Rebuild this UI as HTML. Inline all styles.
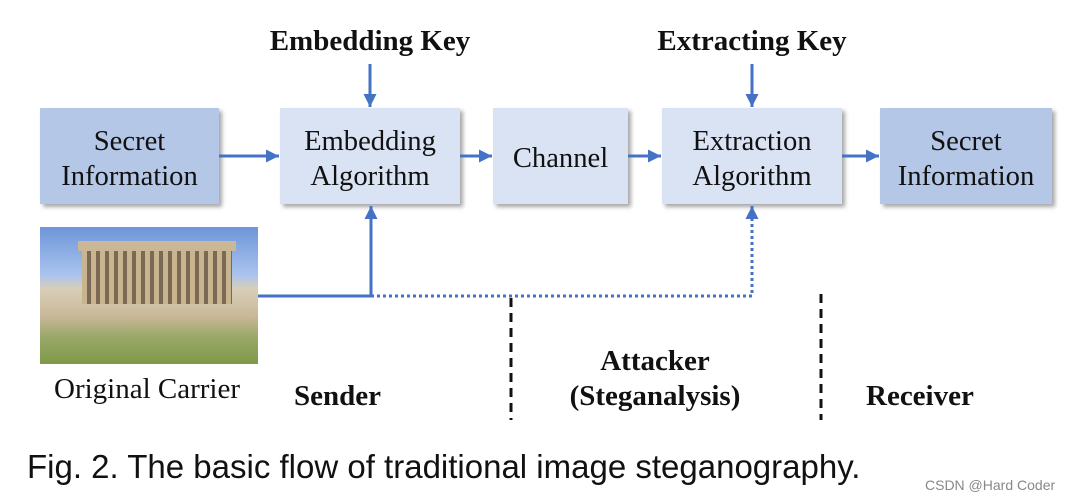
<!DOCTYPE html>
<html><head><style>
body{margin:0;width:1081px;height:501px;background:#fff;position:relative;overflow:hidden;font-family:"Liberation Serif",serif;}
.b{position:absolute;top:108px;height:96px;display:flex;align-items:center;justify-content:center;text-align:center;font-size:28.6px;line-height:35px;color:#111;box-shadow:3px 3px 4px rgba(0,0,0,.35);box-sizing:border-box;padding-top:5px;}
.d{background:#b4c7e7}.l{background:#dae3f3}
.t{position:absolute;font-weight:bold;font-size:29px;color:#111;text-align:center;white-space:nowrap;}
</style></head><body>
<div class="b d" style="left:40px;width:179px">Secret<br>Information</div>
<div class="b l" style="left:280px;width:180px">Embedding<br>Algorithm</div>
<div class="b l" style="left:493px;width:135px">Channel</div>
<div class="b l" style="left:662px;width:180px">Extraction<br>Algorithm</div>
<div class="b d" style="left:880px;width:172px">Secret<br>Information</div>
<div class="t" style="left:258px;top:25px;width:224px">Embedding Key</div>
<div class="t" style="left:640px;top:25px;width:224px">Extracting Key</div>
<div style="position:absolute;left:40px;top:227px;width:218px;height:137px;background:linear-gradient(#6d95d8 0%,#a9c3ee 35%,#d8cfb8 45%,#c9b898 65%,#9aa86a 80%,#7f9a48 100%)">
<div style="position:absolute;left:42px;top:22px;width:150px;height:55px;background:repeating-linear-gradient(90deg,#c8b48e 0 5px,#7a6a55 5px 9px);"></div>
<div style="position:absolute;left:38px;top:14px;width:158px;height:10px;background:#c9b795"></div>
</div>
<div style="position:absolute;left:54px;top:373px;font-size:29px;color:#111;white-space:nowrap">Original Carrier</div>
<div class="t" style="left:294px;top:380px">Sender</div>
<div class="t" style="left:545px;top:344px;width:220px;line-height:35px">Attacker<br>(Steganalysis)</div>
<div class="t" style="left:866px;top:380px">Receiver</div>
<div style="position:absolute;left:27px;top:448px;font-family:'Liberation Sans',sans-serif;font-size:33px;color:#111;white-space:nowrap">Fig. 2. The basic flow of traditional image steganography.</div>
<div style="position:absolute;left:925px;top:477px;font-family:'Liberation Sans',sans-serif;font-size:14px;color:#888">CSDN @Hard Coder</div>
<svg width="1081" height="501" style="position:absolute;left:0;top:0">
<defs><marker id="a" markerWidth="14" markerHeight="14" refX="13" refY="6.5" orient="auto" markerUnits="userSpaceOnUse"><path d="M0,0L13,6.5L0,13z" fill="#4472c4"/></marker></defs>
<g stroke="#4472c4" stroke-width="3" fill="none">
<line x1="219" y1="156" x2="279" y2="156" marker-end="url(#a)"/>
<line x1="460" y1="156" x2="492" y2="156" marker-end="url(#a)"/>
<line x1="628" y1="156" x2="661" y2="156" marker-end="url(#a)"/>
<line x1="842" y1="156" x2="879" y2="156" marker-end="url(#a)"/>
<line x1="370" y1="64" x2="370" y2="107" marker-end="url(#a)"/>
<line x1="752" y1="64" x2="752" y2="107" marker-end="url(#a)"/>
<polyline points="258,296 371,296 371,206" marker-end="url(#a)"/>
<polyline points="371,296 752,296 752,206" stroke-dasharray="3,3" marker-end="url(#a)"/>
</g>
<g stroke="#111" stroke-width="3" stroke-dasharray="9,6">
<line x1="511" y1="298" x2="511" y2="420"/>
<line x1="821" y1="294" x2="821" y2="420"/>
</g>
</svg>
</body></html>
